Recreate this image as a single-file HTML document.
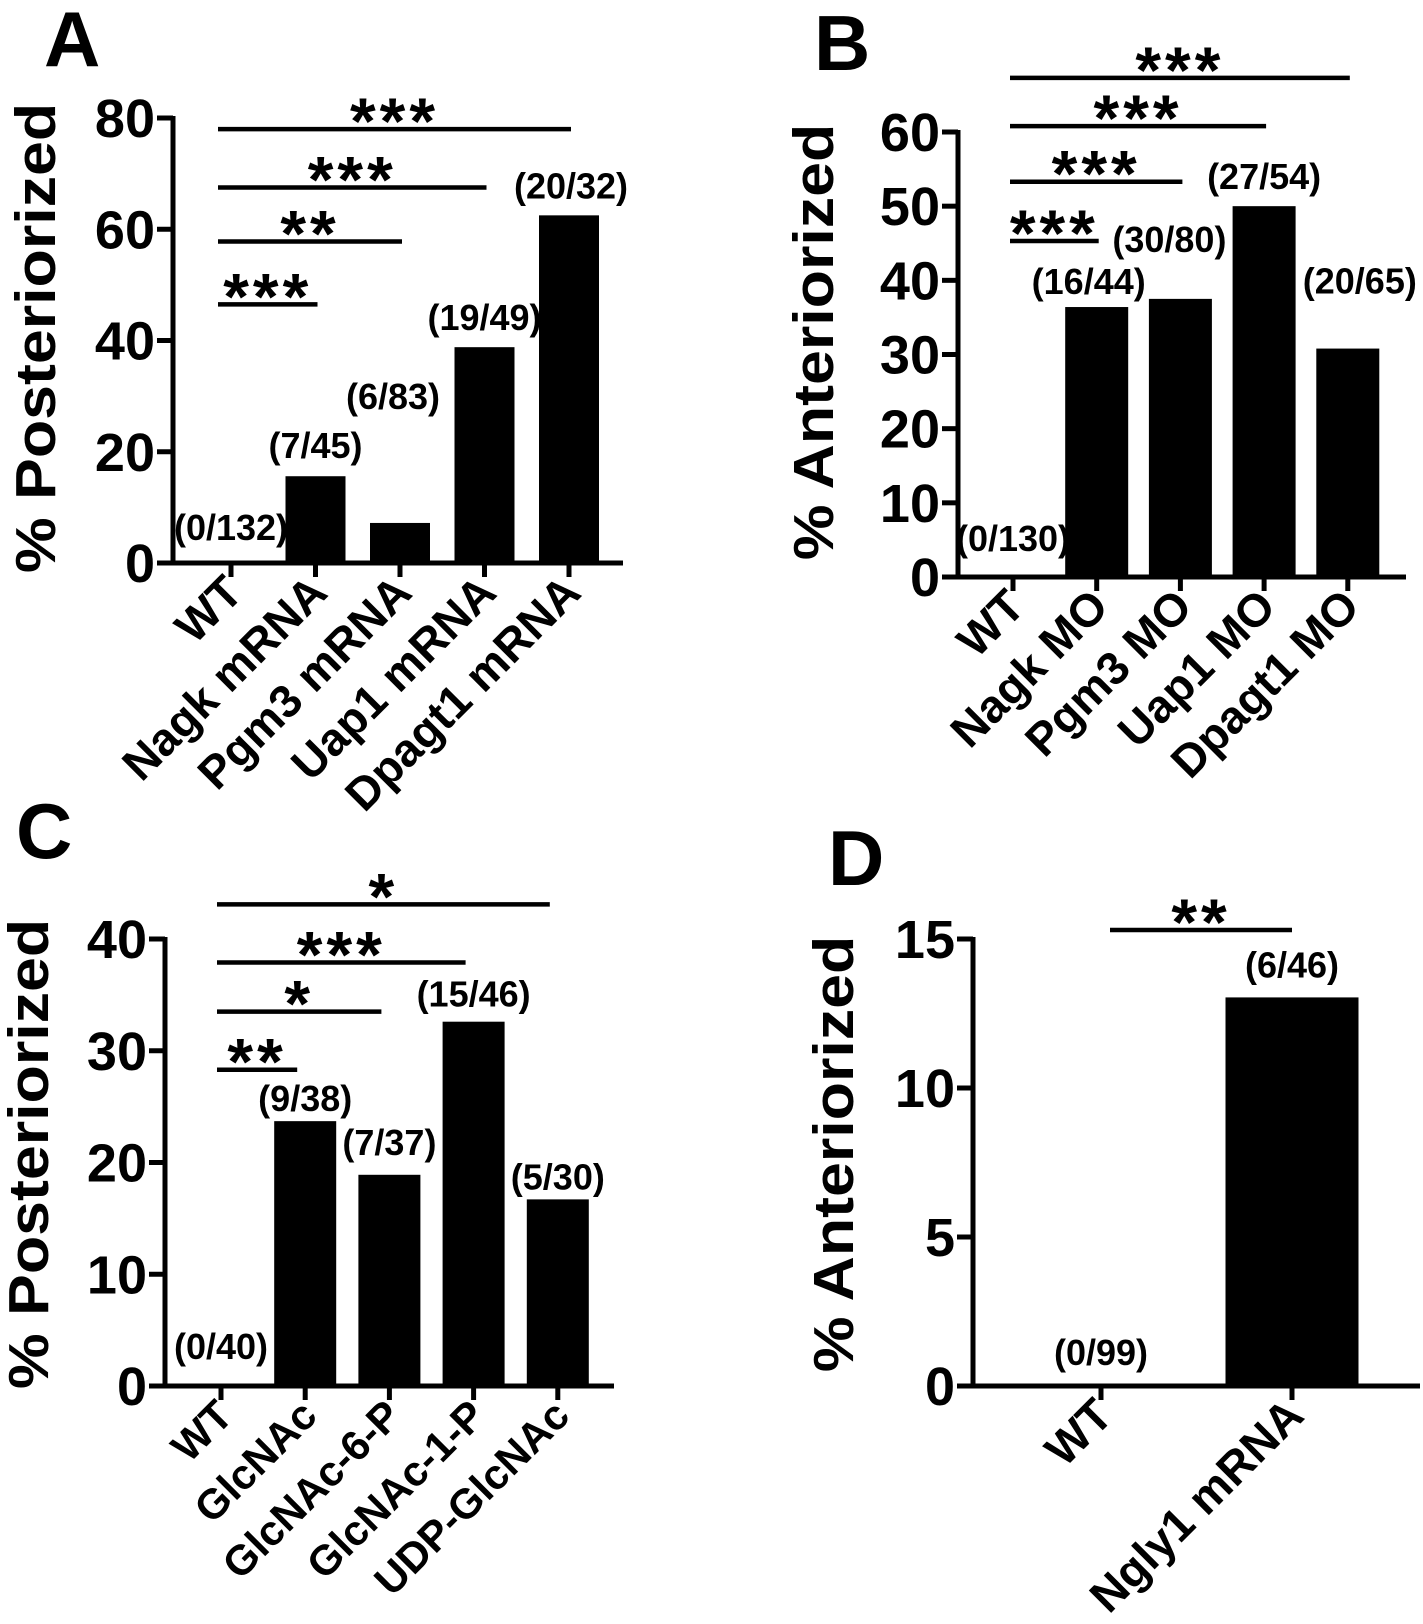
<!DOCTYPE html>
<html><head><meta charset="utf-8">
<style>
html,body{margin:0;padding:0;background:#fff;}
svg{display:block;}
text{font-family:"Liberation Sans",Arial,sans-serif;font-weight:bold;fill:#000;}
</style></head>
<body>
<svg id="fig" width="1423" height="1624" viewBox="0 0 1423 1624" xmlns="http://www.w3.org/2000/svg"></svg>
<script>
// Panel A data
const catsA = ["WT","Nagk mRNA","Pgm3 mRNA","Uap1 mRNA","Dpagt1 mRNA"];
const valsA = [0,15.6,7.2,38.8,62.5];
const countsA = ["(0/132)","(7/45)","(6/83)","(19/49)","(20/32)"];
const ticksA = [0,20,40,60,80];
const sigA = [["***",1,46.5],["**",2,57.8],["***",3,67.5],["***",4,78]];
// Panel B data
const catsB = ["WT","Nagk MO","Pgm3 MO","Uap1 MO","Dpagt1 MO"];
const valsB = [0,36.4,37.5,50,30.8];
const countsB = ["(0/130)","(16/44)","(30/80)","(27/54)","(20/65)"];
const ticksB = [0,10,20,30,40,50,60];
const sigB = [["***",1,45.3],["***",2,53.3],["***",3,60.8],["***",4,67.3]];
// Panel C data
const catsC = ["WT","GlcNAc","GlcNAc-6-P","GlcNAc-1-P","UDP-GlcNAc"];
const valsC = [0,23.7,18.9,32.6,16.7];
const countsC = ["(0/40)","(9/38)","(7/37)","(15/46)","(5/30)"];
const ticksC = [0,10,20,30,40];
const sigC = [["**",1,28.3],["*",2,33.5],["***",3,37.9],["*",4,43.1]];
// Panel D data
const catsD = ["WT","Ngly1 mRNA"];
const valsD = [0,13.04];
const countsD = ["(0/99)","(6/46)"];
const ticksD = [0,5,10,15];
const sigD = [["**",1,15.3]];

const NS="http://www.w3.org/2000/svg";
const svg=document.getElementById('fig');
function mk(tag,attrs,parent){const e=document.createElementNS(NS,tag);for(const k in attrs)e.setAttribute(k,attrs[k]);(parent||svg).appendChild(e);return e;}

function panel(p){
  const g=mk('g',{});
  
  
  const y=v=>p.y0-(v/p.vmax)*(p.y0-p.ytop);
  const x=i=>p.x0+p.step*i;
  const L=mk('text',{x:p.lx,y:p.ly,'font-size':78},g);L.textContent=p.id;
  
  
  const T=mk('text',{transform:`translate(${p.tx},${p.ty}) rotate(-90) scale(1.1,1)`,'text-anchor':'middle','font-size':57},g);
  T.textContent=p.title;
  
  
  p.vals.forEach((v,i)=>{
    if(v>0){const r=mk('rect',{x:x(i)-p.bw/2,y:y(v),width:p.bw,height:p.y0-y(v)},g);
      
      }
    const t=mk('text',{transform:`translate(${x(i)+p.cdx[i]},${y(v)+p.cdy[i]})`,'text-anchor':'middle','font-size':36},g);
    t.textContent=p.counts[i];
    
    
    const tk=mk('line',{x1:x(i),x2:x(i),y1:p.y0,y2:p.y0+14,stroke:'#000','stroke-width':5},g);
    
    
    const c=mk('text',{transform:`translate(${x(i)+p.lox},${p.y0+p.loy}) rotate(-45)`,'text-anchor':'end','font-size':p.cfs},g);
    c.textContent=p.cats[i];
    
    
  });
  const ya=mk('line',{x1:p.ax,x2:p.ax,y1:p.ytop-2,y2:p.y0+2.5,stroke:'#000','stroke-width':5},g);
  
  
  const xa=mk('line',{x1:p.ax-16,x2:p.xend,y1:p.y0,y2:p.y0,stroke:'#000','stroke-width':5},g);
  
  
  p.ticks.forEach(v=>{
    const l=mk('line',{x1:p.ax-16,x2:p.ax,y1:y(v),y2:y(v),stroke:'#000','stroke-width':5},g);
    
    
    const t=mk('text',{x:p.ax-18,y:y(v)+19,'text-anchor':'end','font-size':54},g);
    t.textContent=v;
    
    
  });
  p.sig.forEach(s=>{
    const ly=y(s[2]);
    const l=mk('line',{x1:x(0)-p.sx,x2:x(s[1])-p.sEnd,y1:ly,y2:ly,stroke:'#000','stroke-width':4.5},g);
    
    
    const t=mk('text',{x:(x(0)-p.sx+x(s[1])-p.sEnd)/2,y:ly+15,'text-anchor':'middle','font-size':66,'letter-spacing':4},g);
    t.textContent=s[0];
    
    
  });
}

panel({id:'A',cats:catsA,vals:valsA,counts:countsA,ticks:ticksA,sig:sigA,vmax:80,
  y0:563,ytop:118,ax:173,x0:231,step:84.5,bw:60,xend:623,lx:44,ly:66,tx:55,ty:338,
  title:'% Posteriorized',cdx:[0,0,-7,0,2],cdy:[-23,-18,-114,-17,-17],lox:14,loy:32,cfs:46,sx:13,sEnd:-2});
panel({id:'B',cats:catsB,vals:valsB,counts:countsB,ticks:ticksB,sig:sigB,vmax:60,
  y0:577,ytop:132,ax:958,x0:1013,step:83.7,bw:63,xend:1406,lx:814,ly:70,tx:833,ty:342,
  title:'% Anteriorized',cdx:[0,-8,-11,0,12],cdy:[-26,-13,-47,-17,-55],lox:14,loy:32,cfs:46,sx:3,sEnd:-2});
panel({id:'C',cats:catsC,vals:valsC,counts:countsC,ticks:ticksC,sig:sigC,vmax:40,
  y0:1386,ytop:939,ax:165,x0:221,step:84.2,bw:62,xend:614,lx:16,ly:858,tx:48,ty:1154,
  title:'% Posteriorized',cdx:[0,0,0,0,0],cdy:[-27,-10,-20,-15,-10],lox:14,loy:32,cfs:42,sx:4,sEnd:8});
panel({id:'D',cats:catsD,vals:valsD,counts:countsD,ticks:ticksD,sig:sigD,vmax:15,
  y0:1386,ytop:939,ax:973,x0:1101,step:191,bw:133,xend:1420,lx:828,ly:885,tx:853,ty:1154,
  title:'% Anteriorized',cdx:[0,0],cdy:[-21,-20],lox:14,loy:32,cfs:46,sx:-9,sEnd:0});
</script>
</body></html>
